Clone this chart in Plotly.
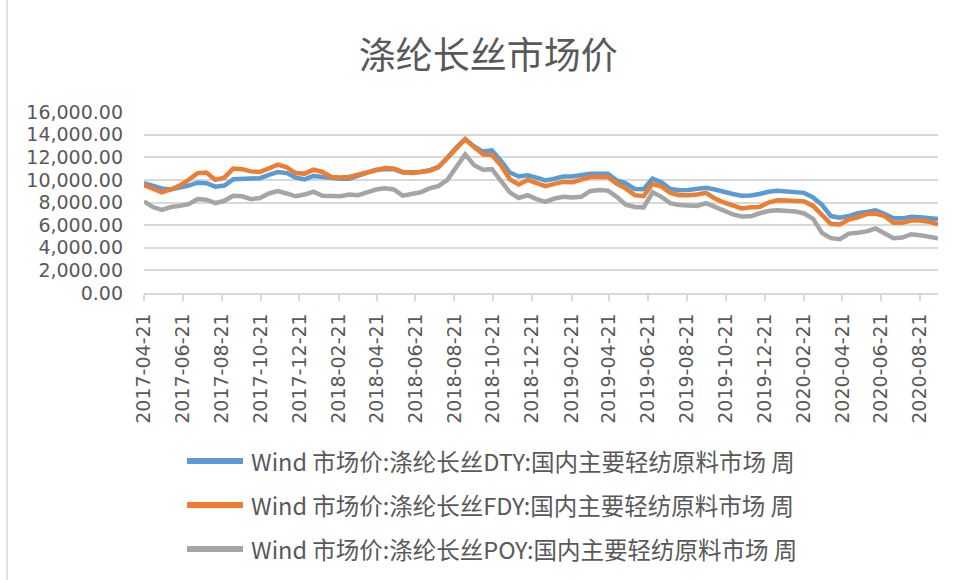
import pandas as pd
import plotly.graph_objects as go

start_date = "2017-04-21"
n_points = 90
dates = pd.date_range(start_date, periods=n_points, freq="14D")

dty = [9700, 9450, 9250, 9150, 9300, 9500, 9750, 9700, 9400, 9500,
       10050, 10100, 10100, 10150, 10450, 10700, 10600, 10200, 10050, 10350,
       10250, 10150, 10100, 10100, 10350, 10550, 10900, 10950, 10950, 10650,
       10700, 10700, 10850, 11150, 11950, 12850, 13600, 12950, 12500, 12600,
       11700, 10650, 10300, 10400, 10200, 9950, 10100, 10300, 10300, 10450,
       10550, 10550, 10550, 9950, 9700, 9200, 9180, 10100, 9800,
       9200, 9090, 9100, 9200, 9300, 9150, 8900, 8750, 8600, 8620,
       8750, 8950, 9030, 9000, 8950, 8850, 8450, 7800, 6800, 6650,
       6800, 7050, 7170, 7300, 7000, 6600, 6600, 6750, 6700, 6580, 6540]

fdy = [9550, 9200, 8900, 9150, 9500, 10000, 10600, 10650, 10000, 10200,
       11000, 10950, 10750, 10700, 11000, 11350, 11100, 10600, 10550, 10900,
       10700, 10250, 10200, 10250, 10450, 10650, 10950, 11050, 11000, 10700,
       10600, 10650, 10800, 11100, 11900, 12800, 13600, 12900, 12250, 12200,
       11300, 10050, 9600, 10000, 9750, 9450, 9650, 9820, 9800, 10000,
       10250, 10250, 10250, 9650, 9250, 8650, 8560, 9650, 9400,
       8850, 8650, 8650, 8700, 8850, 8350, 8000, 7750, 7480, 7580,
       7600, 8000, 8200, 8180, 8150, 8100, 7700, 6900, 6100, 6050,
       6500, 6680, 6980, 7030, 6800, 6200, 6200, 6400, 6400, 6300, 6070]

poy = [8100, 7600, 7350, 7600, 7700, 7850, 8300, 8250, 7950, 8150,
       8600, 8550, 8300, 8400, 8800, 9000, 8800, 8550, 8700, 8950,
       8600, 8550, 8550, 8700, 8650, 8900, 9150, 9250, 9150, 8600,
       8700, 8900, 9250, 9450, 10000, 11100, 12250, 11300, 10900, 10950,
       9950, 8900, 8400, 8650, 8300, 8050, 8350, 8500, 8450, 8500,
       9000, 9100, 9050, 8500, 7800, 7600, 7570, 8900, 8500,
       7950, 7770, 7720, 7690, 7950, 7600, 7250, 6950, 6760, 6780,
       7050, 7250, 7320, 7280, 7200, 7030, 6550, 5300, 4850, 4750,
       5250, 5330, 5450, 5700, 5300, 4850, 4900, 5200, 5100, 5000, 4840]

tick_labels = ["2017-04-21", "2017-06-21", "2017-08-21", "2017-10-21", "2017-12-21",
               "2018-02-21", "2018-04-21", "2018-06-21", "2018-08-21", "2018-10-21",
               "2018-12-21", "2019-02-21", "2019-04-21", "2019-06-21", "2019-08-21",
               "2019-10-21", "2019-12-21", "2020-02-21", "2020-04-21", "2020-06-21",
               "2020-08-21"]

series_names = ["Wind 市场价:涤纶长丝DTY:国内主要轻纺原料市场 周",
                "Wind 市场价:涤纶长丝FDY:国内主要轻纺原料市场 周",
                "Wind 市场价:涤纶长丝POY:国内主要轻纺原料市场 周"]
series_values = [dty, fdy, poy]
colors = ["#5B9BD5", "#ED7D31", "#A5A5A5"]

title_text = "涤纶长丝市场价"

# ---- figure ----
W, H = 963, 580
L, R, T, B = 144, 25, 112, 287
plot_w = W - L - R
plot_h = H - T - B

fig = go.Figure()
for name, vals, col in zip(series_names, series_values, colors):
    fig.add_trace(go.Scatter(x=dates, y=vals, mode="lines", name=name,
                             line=dict(color=col, width=4.5), showlegend=False))

txt_col = "#595959"
grid_col = "#D9D9D9"

fig.update_layout(
    width=W, height=H,
    margin=dict(l=L, r=R, t=T, b=B),
    paper_bgcolor="white", plot_bgcolor="white",
    title=dict(text=title_text, x=0.507, xref="container", xanchor="center",
               y=1 - 56 / H, yref="container", yanchor="middle",
               font=dict(family="Noto Sans CJK SC", size=37, color=txt_col)),
    xaxis=dict(type="date", range=[dates[0], dates[-1]],
               tickvals=tick_labels, ticktext=tick_labels, tickangle=-90,
               ticks="outside", ticklen=6, tickcolor=grid_col, tickwidth=1.5,
               showline=True, linecolor=grid_col, linewidth=1.5,
               showgrid=False, zeroline=False, ticklabelstandoff=5,
               tickfont=dict(family="DejaVu Sans", size=19, color=txt_col)),
    yaxis=dict(range=[0, 16000], dtick=2000, tickformat=",.2f",
               showgrid=True, gridcolor=grid_col, gridwidth=1.5,
               zeroline=False, showline=False, ticks="", ticklabelstandoff=20,
               tickfont=dict(family="DejaVu Sans", size=19, color=txt_col)),
)

# manual legend (long line samples like the original)
leg_rows_px = [461, 505, 549]
line_x0_px, line_x1_px, text_x_px = 187, 243, 249
for name, col, ypx in zip(series_names, colors, leg_rows_px):
    yp = (H - B - ypx) / plot_h
    fig.add_shape(type="line", xref="paper", yref="paper",
                  x0=(line_x0_px - L) / plot_w, x1=(line_x1_px - L) / plot_w,
                  y0=yp, y1=yp, line=dict(color=col, width=6))
    fig.add_annotation(xref="paper", yref="paper", x=(text_x_px - L) / plot_w, y=yp,
                       xanchor="left", yanchor="middle", showarrow=False, text=name,
                       font=dict(family="Noto Sans CJK SC", size=23.5, color=txt_col))

# left border of the chart frame
fig.add_shape(type="line", xref="paper", yref="paper",
              x0=(7 - L) / plot_w, x1=(7 - L) / plot_w,
              y0=(H - B - 0) / plot_h, y1=(H - B - H) / plot_h,
              line=dict(color="#D9D9D9", width=1.5))

fig.write_html("out.html", config={"displayModeBar": False},
               post_script="document.body.style.margin='0';")
